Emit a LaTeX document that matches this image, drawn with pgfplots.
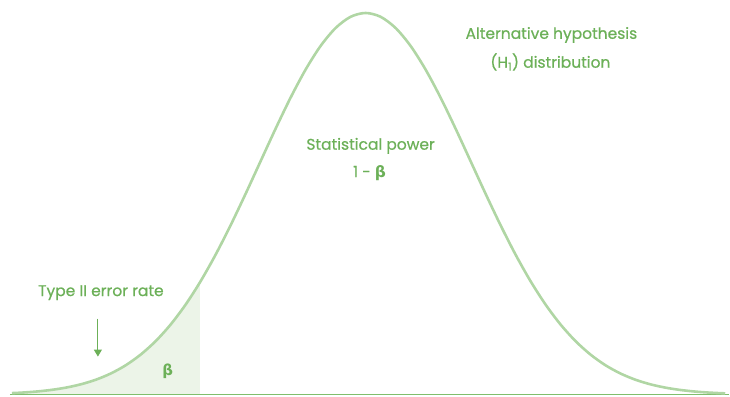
\documentclass[border=0pt]{standalone}
\usepackage{fontspec}
\setmainfont{Poppins}
\newfontfamily\lbl{Poppins}[FakeBold=0.6]
\newfontfamily\grk{DejaVu Sans}
\usepackage{pgfplots}
\pgfplotsset{compat=1.18}
\usetikzlibrary{arrows.meta}
\definecolor{curvegreen}{RGB}{176,214,164}
\definecolor{basegreen}{RGB}{128,190,108}
\definecolor{txtgreen}{RGB}{108,176,88}
\definecolor{shade}{RGB}{236,244,232}
\begin{document}
\begin{tikzpicture}
\begin{axis}[
  scale only axis, width=730pt, height=397pt,
  xmin=0, xmax=730, ymin=-2, ymax=395,
  hide axis, clip=false,
]
% shaded beta region (left tail up to the cut-off)
\addplot[fill=shade, draw=none, smooth] coordinates {
 (12,1.5) (21,1.91) (36,3.00) (51,4.62) (66,6.96) (81,10.29) (96,14.90) (111,21.16)
 (126,29.43) (141,40.16) (156,53.68) (171,70.34) (186,90.34) (200,112.1)
} \closedcycle;
% baseline
\addplot[basegreen, line width=1.6pt] coordinates {(10,0) (730,0)};
% H1 distribution curve
\addplot[curvegreen, line width=2.6pt, smooth] coordinates {
 (12,1.5) (21,1.91) (36,3.00) (51,4.62) (66,6.96) (81,10.29) (96,14.90) (111,21.16)
 (126,29.43) (141,40.16) (156,53.68) (171,70.34) (186,90.34) (201,113.74) (216,140.35)
 (231,169.77) (246,201.27) (261,233.88) (276,266.39) (291,297.42) (306,325.45)
 (321,349.08) (336,367.00) (351,378.19) (366,382)
 (381,378.19) (396,367.00) (411,349.08) (426,325.45) (441,297.42) (456,266.39)
 (471,233.88) (486,201.27) (501,169.77) (516,140.35) (531,113.74) (546,90.34)
 (561,70.34) (576,53.68) (591,40.16) (606,29.43) (621,21.16) (636,14.90) (651,10.29)
 (666,6.96) (681,4.62) (696,3.00) (711,1.91) (726,1.20)
};
\path (axis cs:0,-2) rectangle (axis cs:730,395);
\node[txtgreen, font=\lbl\fontsize{15.5}{18}\selectfont] at (axis cs:552,360) {Alternative hypothesis};
\node[txtgreen, font=\lbl\fontsize{15.5}{18}\selectfont] at (axis cs:551,333) {(H\textsubscript{1}) distribution};
\node[txtgreen, font=\lbl\fontsize{15.5}{18}\selectfont] at (axis cs:371,249) {Statistical power};
\node[txtgreen, font=\lbl\fontsize{15.5}{18}\selectfont] at (axis cs:370,222) {1 - {\grk\bfseries β}};
\node[txtgreen, font=\lbl\fontsize{15.5}{18}\selectfont] at (axis cs:101,102) {Type II error rate};
\node[txtgreen, font=\grk\bfseries\fontsize{15}{18}\selectfont] at (axis cs:168,23) {β};
\draw[txtgreen, line width=1pt, -{Triangle[length=7pt,width=8pt]}] (axis cs:98,76) -- (axis cs:98,38);
\end{axis}
\end{tikzpicture}
\end{document}
